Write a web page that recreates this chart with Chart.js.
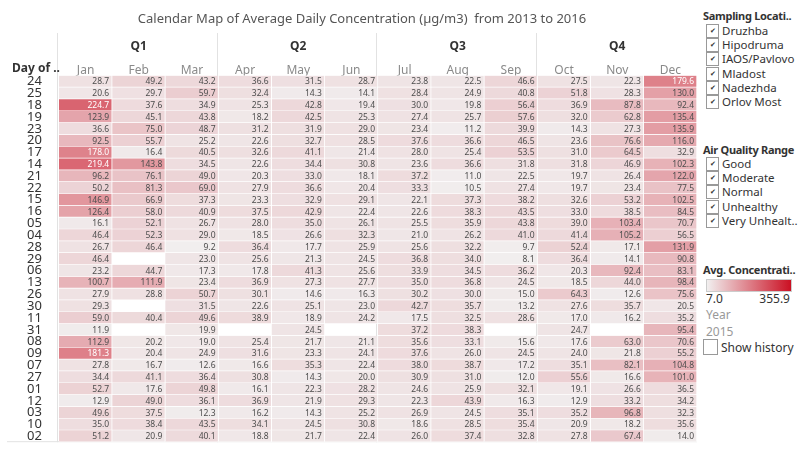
<!DOCTYPE html>
<html>
<head>
<meta charset="utf-8">
<script src="https://cdn.jsdelivr.net/npm/chart.js@4.4.1/dist/chart.umd.min.js"></script>
<style>
    body { margin: 0; background: #fff; font-family: "Noto Sans", sans-serif; }
    #wrap { position: relative; width: 800px; height: 450px; }
    #chart { position: absolute; left: 0; top: 0; }
    .panel { position: absolute; left: 703px; color: #333; font-size: 11.5px; white-space: nowrap; }
    .head { font-weight: bold; font-size: 11px; letter-spacing: -0.3px; }
    .item { position: absolute; left: 3px; height: 14px; line-height: 14px; font-size: 11.5px; }
    .box { display: inline-block; width: 11px; height: 12px; border: 1px solid #999; vertical-align: top;
           margin-right: 3px; font-size: 7px; line-height: 12px; text-align: center; color: #333; }
    .grey { color: #999; }
</style>
</head>
<body>
<div id="wrap">
    <canvas id="chart" width="700" height="450"></canvas>

    <div class="panel" style="top:8px">
        <div class="head">Sampling Locati..</div>
    </div>
    <div class="panel" id="locais" style="top:24px"></div>

    <div class="panel" style="top:142px">
        <div class="head">Air Quality Range</div>
    </div>
    <div class="panel" id="faixas" style="top:157px"></div>

    <div class="panel" style="top:262px">
        <div class="head">Avg. Concentrati..</div>
    </div>
    <div class="panel" style="top:279px; left:706px; width:84px; height:11px; border:1px solid #ccc;
         background: linear-gradient(to right, #f1efef, #cb1023);"></div>
    <div class="panel" style="top:290px; left:706px; font-size:12px">7.0</div>
    <div class="panel" style="top:290px; left:750px; width:40px; text-align:right; font-size:12px">355.9</div>
    <div class="panel grey" style="top:306px; left:706px; font-size:12px">Year</div>
    <div class="panel grey" style="top:323px; left:706px; font-size:12px">2015</div>
    <div class="panel" style="top:339px; left:703px; font-size:12px">
        <span class="box" style="width:13px;height:14px"></span>Show history
    </div>
</div>

<script>
const dias = ['24','25','18','19','23','20','17','14','21','22','15','16','05','04','28','29','06','13','26','30','11','31','08','09','07','27','01','12','03','10','02']
const meses = ['Jan','Feb','Mar','Apr','May','Jun','Jul','Aug','Sep','Oct','Nov','Dec']
const trimestres = ['Q1','Q2','Q3','Q4']

// valores por mes, na ordem das linhas (dias)
const jan = [28.7,20.6,224.7,123.9,36.6,92.5,178.0,219.4,96.2,50.2,146.9,126.4,16.1,46.4,26.7,46.4,23.2,100.7,27.9,29.3,59.0,11.9,112.9,181.3,27.8,34.4,52.7,12.9,49.6,35.0,51.2]
const feb = [49.2,29.7,37.6,45.1,75.0,55.7,16.4,143.8,76.1,81.3,66.9,58.0,52.1,52.3,46.4,null,44.7,111.9,28.8,null,40.4,null,20.2,20.4,16.7,41.1,17.6,49.0,37.5,38.4,20.9]
const mar = [43.2,59.7,34.9,43.8,48.7,25.2,40.5,34.5,49.0,69.0,37.3,40.9,26.7,29.0,9.2,23.0,17.3,23.4,50.7,31.5,49.6,19.9,19.0,24.9,12.6,36.4,49.8,36.1,12.3,43.5,40.1]
const apr = [36.6,32.4,25.3,18.2,31.2,22.6,32.6,22.6,20.3,27.9,23.3,37.5,28.0,18.5,36.4,25.6,17.8,36.9,30.1,22.6,38.9,null,25.4,31.6,16.6,30.8,16.1,36.9,16.2,34.1,18.8]
const may = [31.5,14.3,42.8,42.5,31.9,32.7,41.1,34.4,33.0,36.6,32.9,42.9,35.0,26.6,17.7,21.3,41.3,27.3,14.6,25.1,18.9,24.5,21.7,23.3,35.3,14.3,22.3,21.9,14.3,24.5,21.7]
const jun = [28.7,14.1,19.4,25.3,29.0,28.5,21.4,30.8,18.1,20.4,29.1,22.4,26.1,32.3,25.9,24.5,25.6,27.7,16.3,23.0,24.2,null,21.1,24.1,22.4,20.0,28.2,29.3,25.2,30.8,22.4]
const jul = [23.8,28.4,30.0,27.4,23.4,37.6,28.0,23.6,37.2,33.3,22.1,22.6,25.5,21.0,25.6,36.8,33.9,35.0,30.2,42.7,17.5,37.2,35.6,37.6,38.0,30.9,24.6,22.3,26.9,18.6,26.0]
const aug = [22.5,24.9,19.8,25.7,11.2,36.6,25.4,36.6,11.0,10.5,37.3,38.3,35.9,26.2,32.2,34.0,34.5,36.8,30.0,35.7,32.5,38.3,33.1,26.0,38.7,31.0,25.9,43.9,24.5,28.5,37.4]
const sep = [46.6,40.8,56.4,57.6,39.9,46.5,53.5,31.8,22.5,27.4,38.2,43.5,43.8,41.0,9.7,8.1,36.2,24.5,15.0,13.2,28.6,null,15.6,24.5,17.2,12.0,32.1,16.3,35.1,35.4,32.8]
const oct = [27.5,51.8,36.9,32.0,14.3,23.6,31.0,31.8,19.7,19.7,32.6,33.0,39.0,41.4,52.4,36.4,20.3,18.5,64.3,27.6,17.0,24.7,17.6,24.0,35.1,55.6,19.1,12.9,35.2,20.9,27.8]
const nov = [22.3,28.3,87.8,62.8,27.3,76.6,64.5,46.9,26.4,23.4,53.2,38.5,103.4,105.2,17.1,14.1,92.4,44.0,12.6,35.7,16.2,null,63.0,21.8,82.1,16.6,26.6,33.2,96.8,18.2,67.4]
const dec = [179.6,130.0,92.4,135.4,135.9,116.0,32.9,102.3,122.0,77.5,102.5,84.5,70.7,56.5,131.9,90.8,83.1,98.4,75.6,20.5,35.2,95.4,70.6,55.2,104.8,101.0,36.5,34.2,32.3,35.6,14.0]

const locais = ['Druzhba','Hipodruma','IAOS/Pavlovo','Mladost','Nadezhda','Orlov Most']
const faixas = ['Good','Moderate','Normal','Unhealthy','Very Unhealt..']
const escalaMin = 7.0
const escalaMax = 355.9

const valoresPorMes = [jan, feb, mar, apr, may, jun, jul, aug, sep, oct, nov, dec]

function montarFiltro(id, itens) {
    document.getElementById(id).innerHTML = itens.map((item, index) => {
        return `<div class="item" style="top:${index * 14.2}px"><span class="box">&#10004;</span>${item}</div>`
    }).join('')
}
montarFiltro('locais', locais)
montarFiltro('faixas', faixas)

function corDoValor(valor) {
    const t = Math.max(0, Math.min(1, (valor - escalaMin) / (escalaMax - escalaMin)))
    const de = [241, 239, 239]
    const ate = [203, 16, 35]
    const c = de.map((v, i) => Math.round(v + (ate[i] - v) * t))
    return `rgb(${c[0]},${c[1]},${c[2]})`
}

const datasets = valoresPorMes.map((valores, j) => ({
    label: meses[j],
    data: valores.map(v => v === null ? null : [j, j + 1]),
    backgroundColor: ctx => {
        const v = valores[ctx.dataIndex]
        return v === null ? 'rgba(0,0,0,0)' : corDoValor(v)
    },
    borderColor: 'rgba(255,255,255,0.85)',
    borderWidth: { top: 0, left: 0, right: 1, bottom: 1 },
    borderSkipped: false,
    grouped: false,
    barPercentage: 1,
    categoryPercentage: 1
}))

// textos das celulas, separadores e rotulo "Day of .."
const extras = {
    id: 'extras',
    beforeDatasetsDraw(chart) {
        const { ctx, chartArea, scales } = chart
        ctx.save()
        ctx.strokeStyle = '#e2e2e2'
        ctx.lineWidth = 1
        for (const q of [0, 3, 6, 9]) {
            const x = Math.round(scales.x.getPixelForValue(q)) - 1.5
            ctx.beginPath()
            ctx.moveTo(x, 33)
            ctx.lineTo(x, chartArea.bottom)
            ctx.stroke()
        }
        ctx.beginPath()
        ctx.moveTo(7, chartArea.bottom - 0.5)
        ctx.lineTo(chartArea.right, chartArea.bottom - 0.5)
        ctx.stroke()
        ctx.restore()
    },
    afterDatasetsDraw(chart) {
        const { ctx } = chart
        ctx.save()
        ctx.font = '8.5px "Noto Sans"'
        ctx.textAlign = 'right'
        ctx.textBaseline = 'middle'
        chart.data.datasets.forEach((ds, j) => {
            const meta = chart.getDatasetMeta(j)
            meta.data.forEach((bar, i) => {
                const v = valoresPorMes[j][i]
                if (v === null) return
                ctx.fillStyle = v > 160 ? '#ffffff' : '#4d4d4d'
                ctx.fillText(v.toFixed(1), bar.x - 3, bar.y + 0.5)
            })
        })
        ctx.fillStyle = '#333'
        ctx.font = 'bold 12px "Noto Sans"'
        ctx.textAlign = 'left'
        ctx.fillText('Day of ..', 12, 69)
        ctx.restore()
    }
}

new Chart(document.getElementById('chart'), {
    type: 'bar',
    data: { labels: dias, datasets },
    options: {
        indexAxis: 'y',
        responsive: false,
        animation: false,
        layout: { padding: { left: 27, right: 3, bottom: 6, top: 0 } },
        plugins: {
            legend: { display: false },
            tooltip: { enabled: false },
            title: {
                display: true,
                text: 'Calendar Map of Average Daily Concentration (µg/m3)  from 2013 to 2016',
                color: '#555',
                font: { family: 'Noto Sans', size: 13, weight: 'normal' },
                padding: { top: 11, bottom: 7 }
            }
        },
        scales: {
            x: {
                type: 'linear',
                position: 'top',
                min: 0,
                max: 12,
                weight: 0,
                grid: { display: false },
                border: { display: false },
                afterBuildTicks: s => { s.ticks = meses.map((m, i) => ({ value: i + 0.5 })) },
                afterFit: s => { s.height = 22 },
                ticks: {
                    autoSkip: false,
                    maxRotation: 0,
                    padding: -10,
                    color: '#8a8a8a',
                    font: { family: 'Noto Sans', size: 12 },
                    callback: v => meses[Math.floor(v)]
                }
            },
            xq: {
                type: 'linear',
                position: 'top',
                min: 0,
                max: 12,
                weight: 1,
                grid: { display: false },
                border: { display: false },
                afterBuildTicks: s => { s.ticks = trimestres.map((q, i) => ({ value: i * 3 + 1.5 })) },
                afterFit: s => { s.height = 20 },
                ticks: {
                    autoSkip: false,
                    maxRotation: 0,
                    padding: -8,
                    color: '#333',
                    font: { family: 'Noto Sans', size: 12, weight: 'bold' },
                    callback: v => trimestres[Math.floor(v / 3)]
                }
            },
            y: {
                type: 'category',
                grid: { display: false },
                border: { display: false },
                afterFit: s => { s.width = 32 },
                ticks: {
                    autoSkip: false,
                    crossAlign: 'far',
                    padding: 0,
                    color: '#333',
                    font: { family: 'Noto Sans', size: 13 }
                }
            }
        }
    },
    plugins: [extras]
})
</script>
</body>
</html>
